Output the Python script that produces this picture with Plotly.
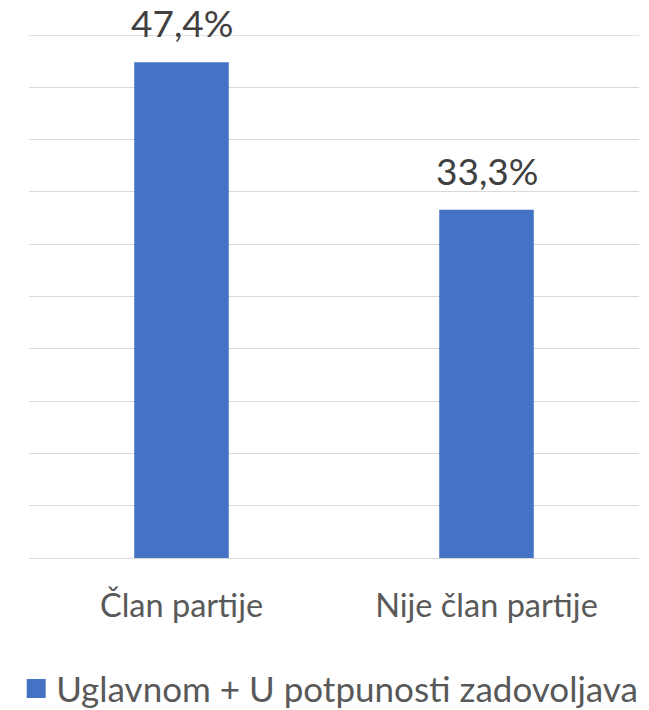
import plotly.graph_objects as go

categories = ["Član partije", "Nije član partije"]
values = [47.4, 33.3]
series_name = "Uglavnom + U potpunosti zadovoljava"
bar_color = "#4472C4"

fig = go.Figure()
fig.add_trace(go.Bar(
    x=categories, y=values, name=series_name,
    marker=dict(color=bar_color, line=dict(width=0)),
    width=0.31,
    showlegend=False,
))
# legend entry with a larger square swatch
fig.add_trace(go.Scatter(
    x=[None], y=[None], mode="markers", name=series_name,
    marker=dict(symbol="square", size=16, color=bar_color,
                line=dict(width=3, color=bar_color)),
    showlegend=True,
))

for c, v in zip(categories, values):
    fig.add_annotation(
        x=c, y=v, xref="x", yref="y",
        text=f"{v:.1f}%".replace(".", ","),
        showarrow=False, yanchor="bottom", yshift=16, borderpad=0,
        font=dict(size=37, color="#404040", family="Lato"),
    )

fig.update_layout(
    width=641, height=702,
    margin=dict(l=21, r=10, t=27, b=152, autoexpand=False),
    paper_bgcolor="white", plot_bgcolor="white",
    separators=",.",
    font=dict(family="Lato", color="#595959"),
    showlegend=True,
    legend=dict(orientation="h", x=-0.021, xanchor="left", y=-0.25, yanchor="middle",
                font=dict(size=35, color="#595959", family="Lato"),
                itemwidth=30),
    bargap=0.69,
)
fig.update_yaxes(range=[0, 50], dtick=5, showticklabels=False,
                 showgrid=True, gridcolor="#D9D9D9", gridwidth=1.3,
                 zeroline=True, zerolinecolor="#D9D9D9", zerolinewidth=1.3,
                 showline=False)
fig.update_xaxes(tickfont=dict(size=32.5, color="#595959", family="Lato"),
                 ticks="", ticklabelstandoff=25, showline=False)
# draw top gridline at the range edge
fig.add_hline(y=50, line=dict(color="#D9D9D9", width=1.3), layer="below")

fig.write_html("out.html")
